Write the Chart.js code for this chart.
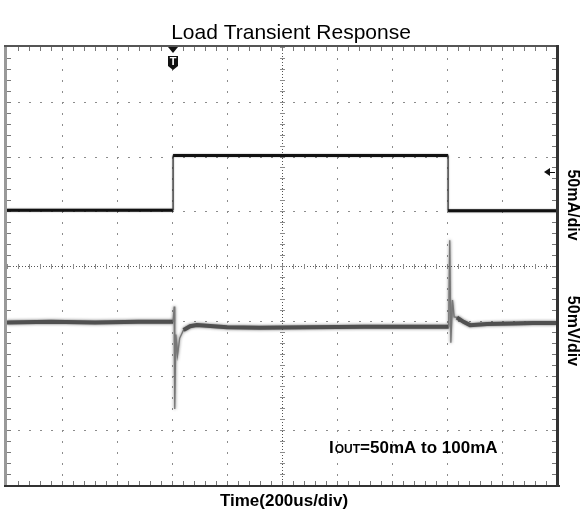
<!DOCTYPE html>
<html>
<head>
<meta charset="utf-8">
<script src="https://cdn.jsdelivr.net/npm/chart.js@4"></script>
<style>
  body { margin: 0; background: #fff; }
  #wrap { width: 582px; height: 512px; position: relative; }
</style>
</head>
<body>
<div id="wrap"><canvas id="scope"></canvas></div>
<script>
// tiempo en us (200us/div), amplitudes en divisiones de pantalla
const currentTime = [0, 604, 604, 1604, 1604, 2000];
const currentDiv  = [5.02, 5.02, 6.02, 6.02, 5.01, 5.01];

const voltTime = [0, 160, 320, 480, 604, 608, 610, 614, 620, 628, 642, 666, 690, 800, 920, 1100, 1300, 1480,
                  1606, 1610, 1614, 1620, 1626, 1636, 1660, 1684, 1746, 1840, 1914, 2000];
const voltDiv  = [2.97, 2.98, 2.97, 2.98, 2.98, 3.26, 1.39, 2.75, 2.37, 2.68, 2.83, 2.90, 2.92, 2.88, 2.87, 2.88, 2.89, 2.89,
                  2.89, 4.47, 2.60, 3.38, 3.07, 3.06, 2.98, 2.92, 2.94, 2.95, 2.96, 2.96];

const triggerTime = 604;
const refLevel = 5.72; // marcador de referencia del canal 1

const toPoints = (xs, ys) => xs.map((x, i) => ({ x: x, y: ys[i] }));

// cuadricula de osciloscopio: 10 x 8 divisiones, 5 subdivisiones
const graticule = {
    id: 'graticule',
    beforeDatasetsDraw(chart) {
        const { ctx, chartArea: a, scales: { x, y } } = chart;
        const px = v => Math.round(x.getPixelForValue(v));
        const py = v => Math.round(y.getPixelForValue(v));
        ctx.save();
        ctx.fillStyle = '#8c8c8c';
        // lineas mayores punteadas
        for (let i = 1; i < 10; i++) {
            if (i === 5) continue;
            for (let j = 0; j <= 40; j++) ctx.fillRect(px(i * 200), py(j * 0.2), 1, 2);
        }
        for (let j = 1; j < 8; j++) {
            if (j === 4) continue;
            for (let i = 0; i <= 50; i++) ctx.fillRect(px(i * 40), py(j), 2, 1);
        }
        // ejes centrales con marcas
        ctx.fillStyle = '#555';
        for (let yy = a.top; yy < a.bottom; yy += 3) ctx.fillRect(px(1000), yy, 1, 1);
        for (let xx = a.left; xx < a.right; xx += 3) ctx.fillRect(xx, py(4), 1, 1);
        ctx.fillStyle = '#8c8c8c';
        for (let j = 0; j <= 40; j++) ctx.fillRect(px(1000) - 2, py(j * 0.2), 5, 1);
        for (let i = 0; i <= 50; i++) ctx.fillRect(px(i * 40), py(4) - 2, 1, 5);
        // marcas en el borde
        ctx.fillStyle = '#777';
        for (let i = 1; i < 50; i++) {
            ctx.fillRect(px(i * 40), a.top, 1, 4);
            ctx.fillRect(px(i * 40), a.bottom - 4, 1, 4);
        }
        for (let j = 1; j < 40; j++) {
            ctx.fillRect(a.left, py(j * 0.2), 4, 1);
            ctx.fillRect(a.right - 5, py(j * 0.2), 4, 1);
        }
        ctx.restore();
    },
    // un poco de difuminado para imitar el ruido de la traza
    beforeDatasetDraw(chart, args) {
        chart.ctx.save();
        chart.ctx.shadowColor = args.index === 1 ? 'rgba(60,60,60,0.8)' : 'rgba(0,0,0,0.5)';
        chart.ctx.shadowBlur = args.index === 1 ? 3 : 1.5;
    },
    afterDatasetDraw(chart) {
        chart.ctx.restore();
    },
    afterDatasetsDraw(chart) {
        const { ctx, chartArea: a, scales: { x, y } } = chart;
        ctx.save();
        // marco
        ctx.fillStyle = '#999';
        ctx.fillRect(a.left - 3, a.top - 1, 3, a.bottom - a.top + 2);
        ctx.fillStyle = '#555';
        ctx.fillRect(a.left - 3, a.top - 2, a.right - a.left + 5, 2);
        ctx.fillStyle = '#333';
        ctx.fillRect(a.left - 3, a.bottom, a.right - a.left + 6, 2);
        ctx.fillRect(a.right - 1, a.top - 2, 3, a.bottom - a.top + 4);

        // marcador de disparo
        const tx = Math.round(x.getPixelForValue(triggerTime));
        ctx.fillStyle = '#111';
        ctx.beginPath();
        ctx.moveTo(tx - 5, a.top);
        ctx.lineTo(tx + 5, a.top);
        ctx.lineTo(tx, a.top + 6);
        ctx.closePath();
        ctx.fill();
        ctx.beginPath();
        ctx.moveTo(tx - 5, a.top + 9);
        ctx.lineTo(tx + 5, a.top + 9);
        ctx.lineTo(tx + 5, a.top + 19);
        ctx.lineTo(tx, a.top + 23);
        ctx.lineTo(tx - 5, a.top + 19);
        ctx.closePath();
        ctx.fill();
        ctx.fillStyle = '#fff';
        ctx.font = 'bold 11px "Liberation Sans", Arial, sans-serif';
        ctx.textAlign = 'center';
        ctx.textBaseline = 'middle';
        ctx.fillText('T', tx, a.top + 15);

        // marcador de nivel a la derecha
        const ry = Math.round(y.getPixelForValue(refLevel));
        ctx.fillStyle = '#111';
        ctx.beginPath();
        ctx.moveTo(a.right - 13, ry);
        ctx.lineTo(a.right - 7, ry - 4);
        ctx.lineTo(a.right - 7, ry + 4);
        ctx.closePath();
        ctx.fill();
        ctx.fillRect(a.right - 8, ry, 6, 1);
        ctx.restore();
    },
    afterDraw(chart) {
        const { ctx, chartArea: a } = chart;
        ctx.save();
        ctx.fillStyle = '#000';
        ctx.textBaseline = 'alphabetic';
        ctx.textAlign = 'center';
        ctx.font = '21px "Liberation Sans", Arial, sans-serif';
        ctx.fillText('Load Transient Response', 291, 39);
        ctx.font = 'bold 17px "Liberation Sans", Arial, sans-serif';
        ctx.fillText('Time(200us/div)', (a.left + a.right) / 2 + 2, 506);

        // etiquetas verticales
        const vert = (txt, cy) => {
            ctx.save();
            ctx.translate(566, cy);
            ctx.rotate(Math.PI / 2);
            ctx.textAlign = 'center';
            ctx.textBaseline = 'middle';
            ctx.font = 'bold 16px "Liberation Sans", Arial, sans-serif';
            ctx.fillText(txt, 0, -6);
            ctx.restore();
        };
        vert('50mA/div', 205);
        vert('50mV/div', 331);

        // Iout
        ctx.textAlign = 'left';
        let cx = 329;
        const big = 'bold 17px "Liberation Sans", Arial, sans-serif';
        const small = 'bold 12px "Liberation Sans", Arial, sans-serif';
        ctx.font = big;
        ctx.fillText('I', cx, 453);
        cx += ctx.measureText('I').width + 1;
        ctx.font = small;
        ctx.fillText('OUT', cx, 453);
        cx += ctx.measureText('OUT').width;
        ctx.font = big;
        ctx.fillText('=50mA to 100mA', cx, 453);
        ctx.restore();
    }
};

const steep = c => Math.abs(c.p1.parsed.x - c.p0.parsed.x) < 15;

new Chart(document.getElementById('scope'), {
    type: 'scatter',
    data: {
        datasets: [{
            label: 'Iout',
            data: toPoints(currentTime, currentDiv),
            showLine: true,
            borderColor: '#111',
            borderWidth: 3,
            pointRadius: 0,
            segment: {
                borderWidth: c => steep(c) ? 1.3 : 3,
                borderColor: c => steep(c) ? '#444' : '#111'
            }
        }, {
            label: 'Vout',
            data: toPoints(voltTime, voltDiv),
            showLine: true,
            borderColor: '#505050',
            borderWidth: 4,
            pointRadius: 0,
            segment: {
                borderWidth: c => steep(c) ? 1.3 : 4,
                borderColor: c => steep(c) ? '#777' : '#505050'
            }
        }]
    },
    options: {
        responsive: true,
        maintainAspectRatio: false,
        animation: false,
        layout: { padding: { left: 7, right: 25, top: 47, bottom: 27 } },
        plugins: { legend: { display: false }, tooltip: { enabled: false } },
        scales: {
            x: { type: 'linear', min: 0, max: 2000, display: false },
            y: { type: 'linear', min: 0, max: 8, display: false }
        }
    },
    plugins: [graticule]
});
</script>
</body>
</html>
